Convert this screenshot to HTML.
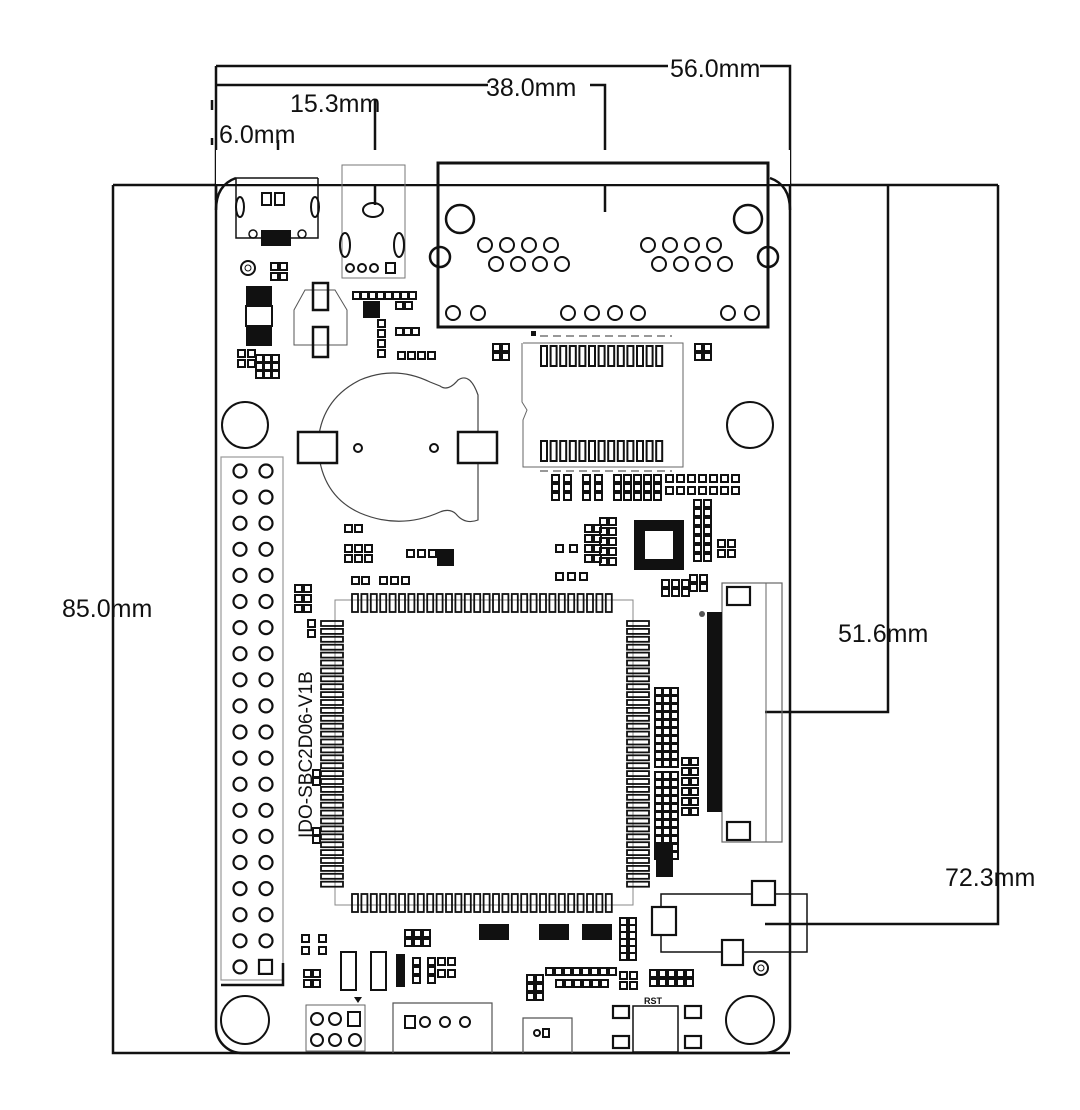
<!DOCTYPE html>
<html><head><meta charset="utf-8"><style>
html,body{margin:0;padding:0;background:#fff;}
svg{display:block;}
text{font-family:"Liberation Sans",sans-serif;fill:#111;}
</style></head><body>
<svg id="s" width="1080" height="1110" viewBox="0 0 1080 1110" xmlns="http://www.w3.org/2000/svg" fill="none" stroke="#111">
<g stroke-width="2.5">
<path d="M216 66H668M760 66H790V185"/>
<path d="M216 66V200"/>
<path d="M216 85H488M590 85H605V212"/>
<path d="M212 100V110M212 138V145"/>
<path d="M375 100V205"/>
<path d="M278 140V185"/>
<path d="M113 185H998"/>
<path d="M113 185V1053H790"/>
<path d="M888 185V712H765"/>
<path d="M998 185V924H765"/>
</g>
<g stroke="none" font-size="25">
<text x="670" y="77">56.0mm</text>
<text x="486" y="96">38.0mm</text>
<text x="290" y="112">15.3mm</text>
<text x="219" y="143">6.0mm</text>
<text x="62" y="617">85.0mm</text>
<text x="838" y="642">51.6mm</text>
<text x="945" y="886">72.3mm</text>
</g>
<rect x="216" y="160" width="574" height="893" rx="26" stroke-width="2.5"/>
<rect x="216" y="150" width="574" height="34" fill="#fff" stroke="none"/>
<path d="M216 210 Q216 185 236 178 M790 210 Q790 185 770 178" stroke-width="2.5"/>
<g stroke-width="1.5">
<path d="M236 178H318M236 178V238H318V178"/>
<rect x="262" y="193" width="9" height="12" stroke-width="2"/><rect x="275" y="193" width="9" height="12" stroke-width="2"/>
<ellipse cx="240" cy="207" rx="4" ry="10" stroke-width="2"/><ellipse cx="315" cy="207" rx="4" ry="10" stroke-width="2"/>
<circle cx="253" cy="234" r="4"/><circle cx="302" cy="234" r="4"/>
</g>
<rect x="261" y="230" width="30" height="16" fill="#111" stroke="none"/>
<circle cx="248" cy="268" r="7" stroke-width="2"/><circle cx="248" cy="268" r="3"/>
<rect x="246" y="286" width="26" height="20" fill="#111" stroke="none"/>
<rect x="246" y="306" width="26" height="20" fill="#fff" stroke-width="2"/>
<rect x="246" y="326" width="26" height="20" fill="#111" stroke="none"/>
<rect x="342" y="165" width="63" height="113" stroke="#777" stroke-width="1"/>
<ellipse cx="373" cy="210" rx="10" ry="7" stroke-width="2"/>
<ellipse cx="345" cy="245" rx="5" ry="12" stroke-width="2"/><ellipse cx="399" cy="245" rx="5" ry="12" stroke-width="2"/>
<g stroke-width="2"><circle cx="350" cy="268" r="4"/><circle cx="362" cy="268" r="4"/><circle cx="374" cy="268" r="4"/><rect x="386" y="263" width="9" height="10"/></g>
<path d="M294 310 L305 290 H335 L347 310 V345 H294 Z" stroke="#555" stroke-width="1"/>
<rect x="313" y="283" width="15" height="27" stroke-width="2.5"/>
<rect x="313" y="327" width="15" height="30" stroke-width="2.5"/>
<g stroke-width="2.5">
<rect x="438" y="163" width="330" height="164" stroke-width="3"/>
<circle cx="460" cy="219" r="14"/><circle cx="748" cy="219" r="14"/>
<circle cx="440" cy="257" r="10"/><circle cx="768" cy="257" r="10"/>
</g>
<g id="ethpins" stroke-width="2"></g>
<g stroke-width="2">
<circle cx="245" cy="425" r="23"/><circle cx="750" cy="425" r="23"/>
<circle cx="245" cy="1020" r="24"/><circle cx="750" cy="1020" r="24"/>
</g>
<path d="M430 382 Q395 365 360 380 Q320 400 318 445 Q320 495 360 513 Q400 530 440 512 Q450 508 456 514 Q465 525 478 520 V395 Q470 372 458 380 Q448 392 440 386 Z" stroke="#444" stroke-width="1.2"/>
<rect x="298" y="432" width="39" height="31" stroke-width="2.5" fill="#fff"/>
<rect x="458" y="432" width="39" height="31" stroke-width="2.5" fill="#fff"/>
<circle cx="358" cy="448" r="4" stroke-width="2"/><circle cx="434" cy="448" r="4" stroke-width="2"/>
<path d="M523 343H683V467H523V420 L527 410 L522 402 V343" stroke="#666" stroke-width="1"/>
<path d="M540 336H672M540 471H672" stroke="#777" stroke-dasharray="8 5" stroke-width="1.5"/>
<rect x="531" y="331" width="5" height="5" fill="#111" stroke="none"/>
<g id="sd" stroke-width="2"></g>
<rect x="221" y="457" width="62" height="523" stroke="#999" stroke-width="1.2"/>
<path d="M221 985H283V963" stroke-width="2.5"/>
<g id="hdr" stroke-width="2.2"></g>
<rect x="335" y="600" width="298" height="305" stroke="#888" stroke-width="1"/>
<g id="chip" stroke-width="1.8"></g>
<text x="0" y="0" font-size="19" font-family="Liberation Mono" transform="translate(312 838) rotate(-90)" stroke="none">IDO-SBC2D06-V1B</text>
<rect x="634" y="520" width="50" height="50" fill="#111" stroke="none"/>
<rect x="645" y="531" width="28" height="28" fill="#fff" stroke="none"/>
<rect x="722" y="583" width="60" height="259" stroke="#666" stroke-width="1.2"/>
<path d="M766 583V842" stroke="#666" stroke-width="1"/>
<rect x="707" y="612" width="15" height="200" fill="#111" stroke="none"/>
<rect x="727" y="587" width="23" height="18" stroke-width="2.2"/>
<rect x="727" y="822" width="23" height="18" stroke-width="2.2"/>
<circle cx="702" cy="614" r="3" fill="#555" stroke="none"/>
<rect x="661" y="894" width="146" height="58" stroke-width="1.5"/>
<rect x="652" y="907" width="24" height="28" stroke-width="2.2" fill="#fff"/>
<rect x="752" y="881" width="23" height="24" stroke-width="2.2" fill="#fff"/>
<rect x="722" y="940" width="21" height="25" stroke-width="2.2" fill="#fff"/>
<circle cx="761" cy="968" r="7" stroke-width="2"/><circle cx="761" cy="968" r="3"/>
<rect x="306" y="1005" width="59" height="46" stroke="#666" stroke-width="1"/>
<g stroke-width="2"><circle cx="317" cy="1019" r="6"/><circle cx="335" cy="1019" r="6"/><rect x="348" y="1012" width="12" height="14"/>
<circle cx="317" cy="1040" r="6"/><circle cx="335" cy="1040" r="6"/><circle cx="355" cy="1040" r="6"/></g>
<path d="M354 997H362L358 1003Z" fill="#111" stroke="none"/>
<path d="M393 1053V1003H492V1053" stroke="#555" stroke-width="1.2"/>
<g stroke-width="2"><rect x="405" y="1016" width="10" height="12"/><circle cx="425" cy="1022" r="5"/><circle cx="445" cy="1022" r="5"/><circle cx="465" cy="1022" r="5"/></g>
<path d="M523 1053V1018H572V1053" stroke="#555" stroke-width="1.2"/>
<g stroke-width="2"><circle cx="537" cy="1033" r="3"/><rect x="543" y="1029" width="6" height="8"/></g>
<rect x="633" y="1006" width="45" height="46" stroke-width="1.5"/>
<g stroke-width="2.2"><rect x="613" y="1006" width="16" height="12"/><rect x="685" y="1006" width="16" height="12"/><rect x="613" y="1036" width="16" height="12"/><rect x="685" y="1036" width="16" height="12"/></g>
<text x="644" y="1004" font-size="9" font-weight="bold" stroke="none">RST</text>
<g stroke-width="2"><rect x="341" y="952" width="15" height="38"/><rect x="371" y="952" width="15" height="38"/></g>
<g id="small" stroke-width="2"></g>
</svg>
<script>
const NS="http://www.w3.org/2000/svg";
function el(g,tag,a){const e=document.createElementNS(NS,tag);for(const k in a)e.setAttribute(k,a[k]);document.getElementById(g).appendChild(e);return e;}
[485,507,529,551,648,670,692,714].forEach(x=>el('ethpins','circle',{cx:x,cy:245,r:7}));
[496,518,540,562,659,681,703,725].forEach(x=>el('ethpins','circle',{cx:x,cy:264,r:7}));
[453,478,568,592,615,638,728,752].forEach(x=>el('ethpins','circle',{cx:x,cy:313,r:7}));
for(let i=0;i<13;i++){const x=541+i*9.6;el('sd','rect',{x:x,y:346,width:6,height:20});el('sd','rect',{x:x,y:441,width:6,height:20});}
for(let i=0;i<20;i++){const y=471+i*26.1;el('hdr','circle',{cx:240,cy:y,r:6.5});if(i<19)el('hdr','circle',{cx:266,cy:y,r:6.5});else el('hdr','rect',{x:259,y:y-7,width:13,height:14});}
for(let i=0;i<28;i++){const x=352+i*9.4;el('chip','rect',{x:x,y:594,width:6,height:18});el('chip','rect',{x:x,y:894,width:6,height:18});}
for(let i=0;i<34;i++){const y=621+i*7.9;el('chip','rect',{x:321,y:y,width:22,height:5});el('chip','rect',{x:627,y:y,width:22,height:5});}
function pad(x,y,f){el('small','rect',{x:x,y:y,width:7,height:7,fill:f?'#111':'none'});}
function grid(x0,y0,c,r,dx,dy,f){for(let i=0;i<c;i++)for(let j=0;j<r;j++)pad(x0+i*dx,y0+j*dy,f);}
grid(271,263,2,2,9,10);
grid(353,292,8,1,8,0);grid(364,302,2,2,8,8,true);grid(396,302,2,1,9,0);
grid(378,320,1,4,0,10);grid(396,328,3,1,8,0);grid(398,352,4,1,10,0);
grid(238,350,2,2,10,10);grid(256,355,3,3,8,8);
grid(493,344,2,2,9,9);grid(695,344,2,2,9,9);
grid(552,475,2,3,12,9);grid(583,475,2,3,12,9);grid(614,475,5,3,10,9);grid(666,475,7,2,11,12);
grid(345,525,2,1,10,0);grid(345,545,3,2,10,10);grid(407,550,3,1,11,0);grid(438,550,2,2,8,8,true);grid(352,577,2,1,10,0);grid(380,577,3,1,11,0);
grid(295,585,2,3,9,10);grid(308,620,1,2,0,10);
grid(600,518,2,5,9,10);grid(585,525,2,4,9,10);grid(556,545,2,1,14,0);grid(556,573,3,1,12,0);
grid(694,500,2,7,10,9);grid(718,540,2,2,10,10);grid(662,580,3,2,10,9);grid(690,575,2,2,10,9);
grid(655,688,3,10,8,8);grid(682,758,2,6,9,10);grid(655,772,3,11,8,8);grid(657,845,2,4,8,8,true);
grid(313,770,1,2,0,8);grid(313,828,1,2,0,8);
grid(302,935,2,2,17,12);grid(304,970,2,2,9,10);
grid(405,930,3,2,9,9);grid(397,955,1,4,0,8,true);grid(413,958,2,3,15,9);grid(438,958,2,2,10,12);
grid(480,925,4,2,7,7,true);grid(540,925,4,2,7,7,true);grid(583,925,4,2,7,7,true);
grid(620,918,2,6,9,7);
grid(527,975,2,3,9,9);grid(546,968,8,1,9,0);grid(556,980,6,1,9,0);
grid(620,972,2,2,10,10);grid(650,970,5,2,9,9);
</script>
</body></html>
